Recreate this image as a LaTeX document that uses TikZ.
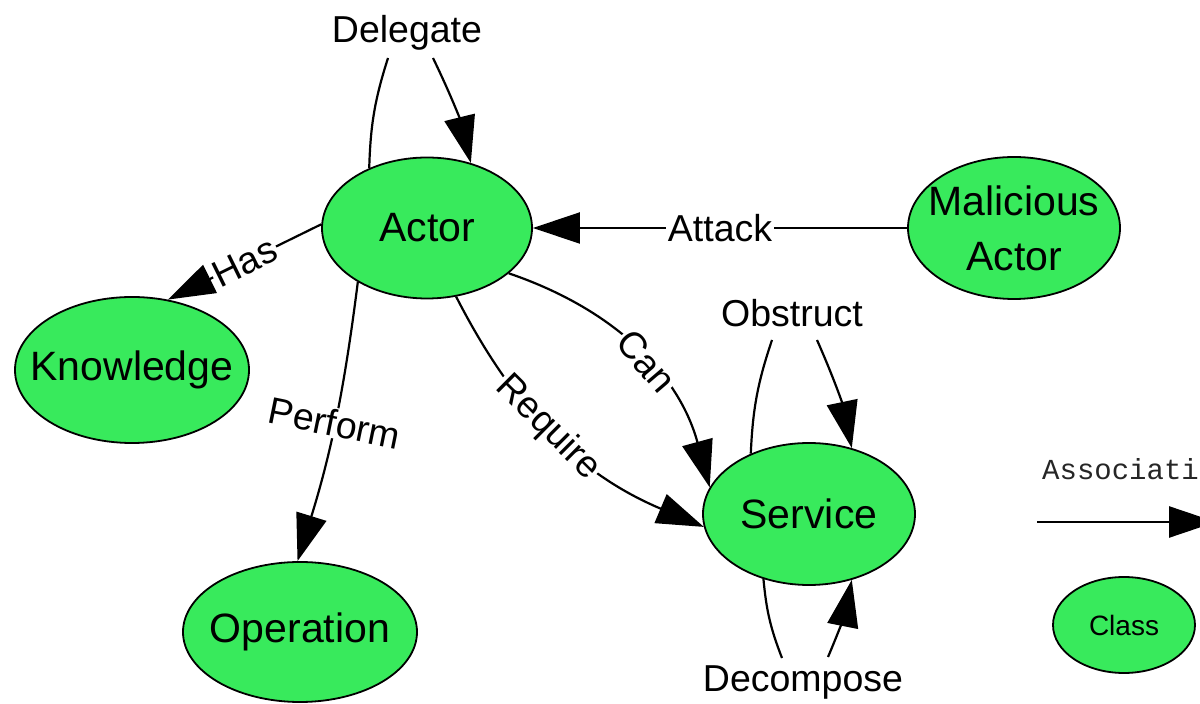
\documentclass[tikz,border=0pt]{standalone}
\usepackage{fontspec}
\setmainfont{Liberation Sans}
\newfontfamily\assocfont{Liberation Mono}
\usetikzlibrary{shapes.geometric,arrows.meta}
\definecolor{nodegreen}{RGB}{56,234,92}
\begin{document}
\begin{tikzpicture}[x=1pt,y=1pt,
  cls/.style={ellipse, draw=black, line width=1.8pt, fill=nodegreen,
    inner xsep=-40pt, inner ysep=-10pt, align=center,
    font=\fontsize{41}{50}\selectfont},
  rel/.style={line width=2.2pt, -{Triangle[length=47pt,width=31pt]}},
  link/.style={line width=2.2pt},
  lab/.style={font=\fontsize{37.5}{40}\selectfont, fill=white, inner sep=1.5pt},
  freelab/.style={font=\fontsize{37.5}{40}\selectfont, inner sep=0pt, anchor=base},
]
\useasboundingbox (0,0) rectangle (1200,704);
\clip (0,0) rectangle (1200,704);

% classes
\node[cls, minimum width=210pt, minimum height=141pt] (actor) at (427,476) {Actor};
\node[cls, minimum width=212pt, minimum height=142pt,
      font=\fontsize{41}{55}\selectfont] (mal) at (1014,476) {Malicious\\Actor};
\node[cls, minimum width=234pt, minimum height=146pt] (know) at (132,334) {Knowledge};
\node[cls, minimum width=234pt, minimum height=140pt] (oper) at (300,72) {Operation};
\node[cls, minimum width=212pt, minimum height=142pt] (serv) at (809,190) {Service};
\node[cls, minimum width=142pt, minimum height=96pt,
      font=\fontsize{28}{32}\selectfont] (class) at (1124,79) {Class};

% Delegate (self association of Actor)
\coordinate (dg1) at (388,646);
\coordinate (dg2) at (433,646);
\draw[link] (actor.134) to[bend left=8] (dg1);
\draw[rel] (dg2) to[bend left=6] (actor.56);
\node[freelab] (dglab) at (407,661) {Delegate};

% Has
\draw[rel] (actor.178) -- node[lab, sloped, pos=0.5] (haslab) {Has} (know.63);

% Perform
\draw[rel] (actor.218) to[bend left=5]
  node[lab, pos=0.5, rotate=-11.5] (perflab) {Perform} (oper.92);

% Attack
\draw[rel] (mal.west) -- node[lab, pos=0.5] (attlab) {Attack} (actor.east);

% Can / Require
\draw[rel] (actor.331) to[bend left=28]
  node[lab, sloped, pos=0.54] (canlab) {Can} (serv.165);
\draw[rel] (actor.293) to[bend right=20]
  node[lab, sloped, pos=0.46] (reqlab) {Require} (serv.187);

% Obstruct (self association of Service)
\coordinate (ob1) at (772,364);
\coordinate (ob2) at (817,364);
\draw[link] (serv.134) to[bend left=8] (ob1);
\draw[rel] (ob2) to[bend left=6] (serv.57);
\node[freelab] (oblab) at (792,377) {Obstruct};

% Decompose (self association of Service)
\coordinate (dc1) at (782,46);
\coordinate (dc2) at (828,47);
\draw[link] (serv.235) to[bend right=8] (dc1);
\draw[rel] (dc2) to[bend right=6] (serv.303);
\node[freelab] (dclab) at (803,12) {Decompose};

% legend
\coordinate (as1) at (1037,182);
\coordinate (as2) at (1216,182);
\draw[rel, line width=2.6pt] (as1) -- (as2);
\node[anchor=base west, inner sep=0pt, text=black!85,
      font=\assocfont\fontsize{29}{32}\selectfont] (assoclab) at (1042,224) {Association};
\end{tikzpicture}
\end{document}
